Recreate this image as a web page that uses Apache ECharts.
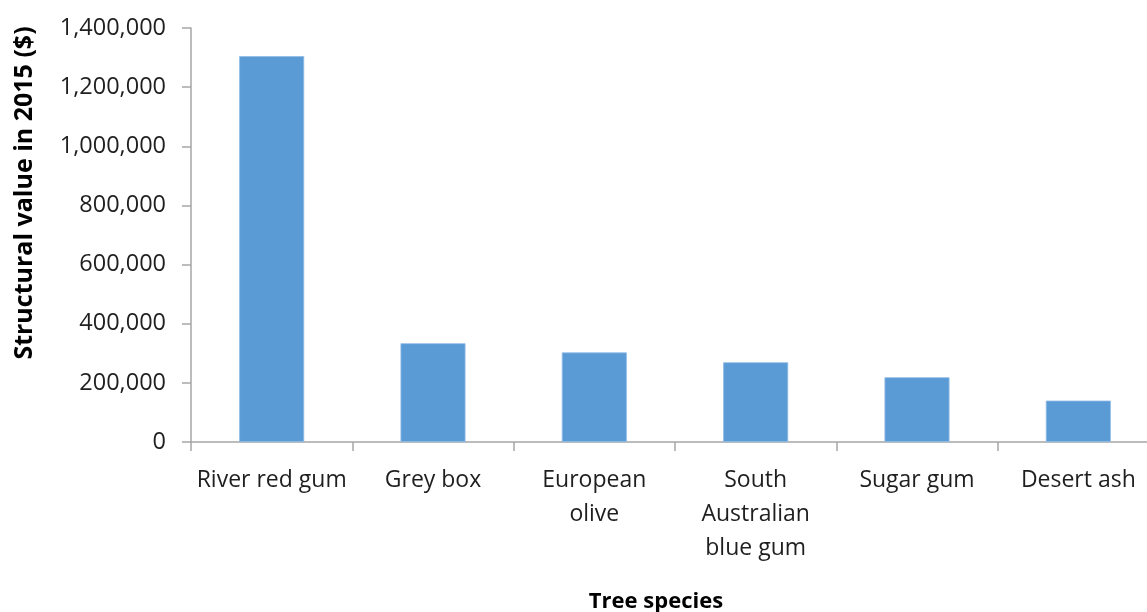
<!DOCTYPE html>
<html>
<head>
<meta charset="utf-8">
<title>Structural value by tree species</title>
<script src="https://cdn.jsdelivr.net/npm/echarts@6/dist/echarts.min.js"></script>
<style>
  html, body { margin: 0; padding: 0; background: #ffffff; overflow: hidden; }
  /* the drawing runs slightly past the right edge of the window */
  #chart { width: 1159px; height: 612px; }
</style>
</head>
<body>
<div id="chart"></div>
<script>
// Tree species (labels wrap as they are shown under the axis)
const species = [
  'River red gum',
  'Grey box',
  'European\nolive',
  'South\nAustralian\nblue gum',
  'Sugar gum',
  'Desert ash'
];

// Structural value in 2015, dollars
const structuralValue = [1305000, 334000, 303000, 269500, 219000, 140000];

// Value axis range and step
const valueMin = 0;
const valueMax = 1400000;
const valueStep = 200000;

const axisGrey = '#a6a6a6';
const textColor = '#1f1f1f';
const fontFamily = '"Open Sans", "Noto Sans", sans-serif';

const chart = echarts.init(document.getElementById('chart'), null, { renderer: 'canvas' });

chart.setOption({
  animation: false,
  backgroundColor: '#ffffff',
  grid: {
    left: 191,
    top: 28,
    right: 0,
    height: 414,
    containLabel: false
  },
  xAxis: {
    type: 'category',
    data: species,
    boundaryGap: true,
    axisLine: { show: true, lineStyle: { color: axisGrey, width: 1.5 } },
    axisTick: { show: true, length: 9, alignWithLabel: false, lineStyle: { color: axisGrey, width: 1.5 } },
    axisLabel: {
      interval: 0,
      margin: 21,
      color: textColor,
      fontFamily: fontFamily,
      fontSize: 23,
      lineHeight: 34,
      align: 'center'
    },
    splitLine: { show: false }
  },
  yAxis: {
    type: 'value',
    min: valueMin,
    max: valueMax,
    interval: valueStep,
    axisLine: { show: true, lineStyle: { color: axisGrey, width: 1.5 } },
    axisTick: { show: true, length: 9, inside: false, lineStyle: { color: axisGrey, width: 1.5 } },
    axisLabel: {
      margin: 25,
      color: textColor,
      fontFamily: fontFamily,
      fontSize: 23.5,
      formatter: function (v) { return v.toLocaleString('en-US'); }
    },
    splitLine: { show: false }
  },
  series: [{
    type: 'bar',
    data: structuralValue,
    barWidth: 65,
    itemStyle: {
      color: '#5b9bd5',
      borderColor: '#8fbbe6',
      borderWidth: 0.8
    }
  }],
  graphic: [
    {
      type: 'text',
      x: 25,
      y: 193,
      rotation: Math.PI / 2,
      style: {
        text: 'Structural value in 2015 ($)',
        fill: '#000000',
        font: 'bold 25px ' + fontFamily,
        align: 'center',
        verticalAlign: 'middle'
      }
    },
    {
      type: 'text',
      x: 656,
      y: 602,
      style: {
        text: 'Tree species',
        fill: '#000000',
        font: 'bold 22px ' + fontFamily,
        align: 'center',
        verticalAlign: 'middle'
      }
    }
  ]
});
</script>
</body>
</html>
